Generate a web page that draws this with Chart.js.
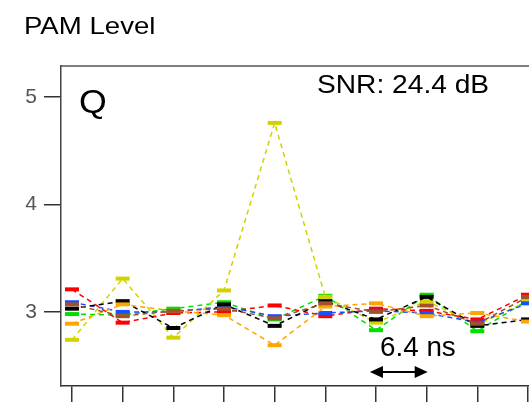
<!DOCTYPE html>
<html>
<head>
<meta charset="utf-8">
<script src="https://cdn.jsdelivr.net/npm/chart.js@4"></script>
<style>
  html, body { margin: 0; padding: 0; background: #fff; }
  #wrap { position: relative; width: 529px; height: 402px; overflow: hidden; font-family: "Liberation Sans", Arial, sans-serif; }
  canvas { position: absolute; left: 0; top: 0; }
  .note { position: absolute; color: #000; white-space: nowrap; line-height: 1; transform-origin: 0 0; }
</style>
</head>
<body>
<div id="wrap">
  <canvas id="c" width="529" height="402"></canvas>
  <div class="note" style="left:24px; top:13.7px; font-size:24px; transform:scaleX(1.15);">PAM Level</div>
  <div class="note" style="left:79px; top:84px; font-size:34px; transform:scaleX(1.05);">Q</div>
  <div class="note" style="left:316.5px; top:71.6px; font-size:25.6px; transform:scaleX(1.1);">SNR: 24.4 dB</div>
  <div class="note" style="left:379.5px; top:333.8px; font-size:27px; transform:scaleX(1.03);">6.4 ns</div>
</div>
<script>
// sample index along the time axis (one tick per symbol)
const samples = [0, 1, 2, 3, 4, 5, 6, 7, 8, 9, 10];
const yTicks = [3, 4, 5];

// levels, one array per trace
const redVals    = [3.21, 2.90, 2.99, 3.00, 3.06, 2.96, 3.03, 3.01, 2.93, 3.16, 3.20];
const blueVals   = [3.09, 3.00, 3.00, 3.05, 2.96, 2.99, 3.01, 2.99, 2.90, 3.08, 3.10];
const blackVals  = [3.03, 3.10, 2.85, 3.07, 2.87, 3.10, 2.93, 3.14, 2.87, 2.93, 2.95];
const greenVals  = [2.98, 2.97, 3.03, 3.09, 2.93, 3.15, 2.83, 3.16, 2.82, 3.11, 3.12];
const yellowVals = [2.74, 3.31, 2.76, 3.20, 4.76, 3.14, 2.90, 3.10, 2.88, 3.10, 3.12];
const orangeVals = [2.89, 3.07, 3.01, 2.97, 2.69, 3.05, 3.08, 2.96, 2.99, 2.91, 2.92];
const brownVals  = [3.07, 2.96, 3.01, 3.03, 2.94, 3.08, 3.00, 3.06, 2.89, 3.14, 3.15];

function trace(label, vals, color) {
  return {
    label,
    data: samples.map((s, i) => ({ x: s, y: vals[i] })),
    borderColor: color,
    backgroundColor: color,
    borderWidth: 1.5,
    borderDash: [5, 4],
    pointStyle: "line",
    pointRadius: 7,
    pointBorderWidth: 4,
    pointBorderColor: color,
    tension: 0,
  };
}

// top frame line and the 6.4 ns double arrow
const extras = {
  id: "extras",
  afterDraw(chart) {
    const { ctx, chartArea, scales } = chart;
    ctx.save();
    ctx.strokeStyle = "#555";
    ctx.lineWidth = 1.5;
    ctx.beginPath();
    ctx.moveTo(chartArea.left, chartArea.top);
    ctx.lineTo(chartArea.right, chartArea.top);
    ctx.stroke();

    const x1 = scales.x.getPixelForValue(5.88);
    const x2 = scales.x.getPixelForValue(7.02);
    const y = 372;
    ctx.strokeStyle = "#000";
    ctx.fillStyle = "#000";
    ctx.lineWidth = 2;
    ctx.beginPath();
    ctx.moveTo(x1 + 8, y);
    ctx.lineTo(x2 - 8, y);
    ctx.stroke();
    ctx.beginPath();
    ctx.moveTo(x1, y); ctx.lineTo(x1 + 13, y - 6); ctx.lineTo(x1 + 13, y + 6); ctx.closePath();
    ctx.fill();
    ctx.beginPath();
    ctx.moveTo(x2, y); ctx.lineTo(x2 - 13, y - 6); ctx.lineTo(x2 - 13, y + 6); ctx.closePath();
    ctx.fill();
    ctx.restore();
  },
};

new Chart(document.getElementById("c"), {
  type: "line",
  data: {
    datasets: [
      trace("brown", brownVals, "#a0522d"),
      trace("orange", orangeVals, "#ffa500"),
      trace("black", blackVals, "#000000"),
      trace("blue", blueVals, "#1a4fff"),
      trace("red", redVals, "#ff0000"),
      trace("yellow", yellowVals, "#d2d200"),
      trace("green", greenVals, "#00e000"),
    ],
  },
  options: {
    responsive: false,
    animation: false,
    layout: { autoPadding: false, padding: { top: 66, left: 0, right: 0, bottom: 0 } },
    plugins: { legend: { display: false }, tooltip: { enabled: false } },
    scales: {
      x: {
        type: "linear",
        min: -0.217,
        max: 9.02,
        afterFit(scale) { scale.height = 16; scale.paddingLeft = 0; scale.paddingRight = 0; },
        afterBuildTicks(scale) { scale.ticks = samples.slice(0, 10).map(v => ({ value: v })); },
        ticks: { display: false },
        grid: { drawOnChartArea: false, drawTicks: true, tickLength: 16, color: "#333", lineWidth: 1.5 },
        border: { display: true, color: "#333", width: 1.5 },
      },
      y: {
        min: 2.31,
        max: 5.29,
        afterFit(scale) { scale.width = 61; scale.paddingTop = 0; scale.paddingBottom = 0; },
        afterBuildTicks(scale) { scale.ticks = yTicks.map(v => ({ value: v })); },
        ticks: { color: "#555", padding: 7, font: { family: "Liberation Sans", size: 21 } },
        grid: { drawOnChartArea: false, drawTicks: true, tickLength: 17, color: "#333", lineWidth: 1.5 },
        border: { display: true, color: "#444", width: 1.5 },
      },
    },
  },
  plugins: [extras],
});
</script>
</body>
</html>
